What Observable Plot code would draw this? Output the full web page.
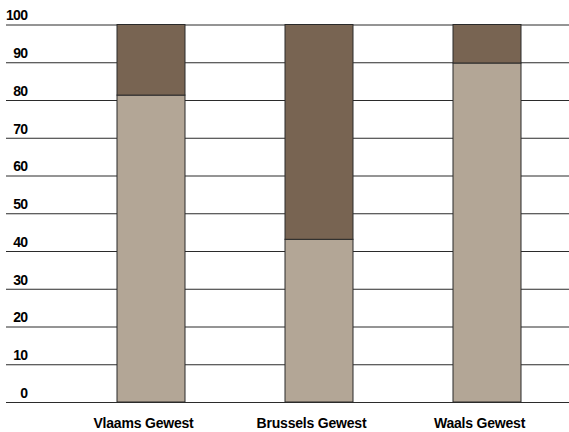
<!DOCTYPE html>
<html>
<head>
<meta charset="utf-8">
<script src="https://cdn.jsdelivr.net/npm/d3@7"></script>
<script src="https://cdn.jsdelivr.net/npm/@observablehq/plot@0.6"></script>
<style>
  html, body { margin: 0; padding: 0; background: #fff; }
  svg text { font-weight: 700 !important; fill: #000; }
  .yax text { letter-spacing: -0.6px; }
  .xax text { letter-spacing: -0.2px; }
</style>
</head>
<body>
<div id="chart"></div>
<script>
const regions = ["Vlaams Gewest", "Brussels Gewest", "Waals Gewest"];
const lowerShare = [81.3, 43.1, 89.8];
const upperShare = [18.7, 56.9, 10.2];
const yTicks = [0, 10, 20, 30, 40, 50, 60, 70, 80, 90, 100];

const data = regions.flatMap((r, i) => [
  {region: r, part: "lower", value: lowerShare[i]},
  {region: r, part: "upper", value: upperShare[i]}
]);

const chart = Plot.plot({
  width: 569,
  height: 432,
  marginTop: 24.5,
  marginBottom: 30,
  marginLeft: 6,
  marginRight: 0,
  style: {fontFamily: "'Liberation Sans', Arial, sans-serif", fontWeight: "bold", color: "#000", background: "#fff"},
  x: {domain: regions, range: [116, 522], paddingInner: 0.5976, paddingOuter: 0, label: null},
  y: {domain: [0, 100], label: null},
  color: {domain: ["lower", "upper"], range: ["#b3a696", "#786452"]},
  marks: [
    Plot.ruleY(yTicks, {stroke: "#2b2b2b", strokeWidth: 1}),
    Plot.barY(data, {x: "region", y: "value", fill: "part", stroke: "#2a2a2a", strokeWidth: 1}),
    Plot.axisY(yTicks, {className: "yax", tickSize: 0, tickPadding: 0, textAnchor: "end", dx: 21, dy: -9, fontSize: 14, fontWeight: "bold", label: null}),
    Plot.axisX({className: "xax", tickSize: 0, tickPadding: 16, fontSize: 14, fontWeight: "bold", dx: -8, label: null})
  ]
});
document.getElementById("chart").appendChild(chart);
</script>
</body>
</html>
